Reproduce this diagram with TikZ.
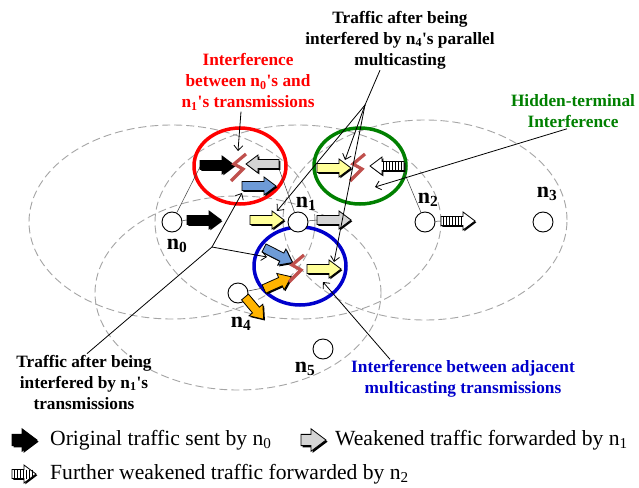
\documentclass[tikz,border=0pt]{standalone}
\usepackage{fontspec}
\setmainfont{Liberation Serif}
\usetikzlibrary{arrows.meta}
\definecolor{yel}{RGB}{255,255,153}
\definecolor{lgray}{RGB}{212,212,212}
\definecolor{bluearr}{RGB}{110,155,215}
\definecolor{orng}{RGB}{255,180,0}
\definecolor{boltc}{RGB}{192,80,77}
\definecolor{rangec}{RGB}{165,165,165}
\definecolor{grn}{RGB}{0,128,0}
\definecolor{blu}{RGB}{0,0,204}
\definecolor{redc}{RGB}{255,0,0}
\newcommand\sq{\textquotesingle}

% block arrow: fill, tail point, angle, length
\newcommand\barrow[4]{%
  \fill[black,shift={(#2)},shift={(1.3,1.3)},rotate=#3] (0,-4.5) -- ({#4-12},-4.5) -- ({#4-12},-9) -- (#4,0) -- ({#4-12},9) -- ({#4-12},4.5) -- (0,4.5) -- cycle;
  \filldraw[fill=#1,draw=black,line width=0.8pt,shift={(#2)},rotate=#3] (0,-4.5) -- ({#4-12},-4.5) -- ({#4-12},-9) -- (#4,0) -- ({#4-12},9) -- ({#4-12},4.5) -- (0,4.5) -- cycle;}
% hatched arrow: tail point, angle, length
\newcommand\harrow[3]{%
  \fill[black,shift={(#1)},shift={(1.3,1.3)},rotate=#2] (0,-4.5) -- ({#3-12},-4.5) -- ({#3-12},-9) -- (#3,0) -- ({#3-12},9) -- ({#3-12},4.5) -- (0,4.5) -- cycle;
  \filldraw[fill=white,draw=black,line width=0.8pt,shift={(#1)},rotate=#2] (0,-4.5) -- ({#3-12},-4.5) -- ({#3-12},-9) -- (#3,0) -- ({#3-12},9) -- ({#3-12},4.5) -- (0,4.5) -- cycle;
  \foreach \k in {1,...,7}{\draw[line width=1.4pt,shift={(#1)},rotate=#2] ({\k*3-0.5},-4.5) -- ({\k*3-0.5},4.5);}}
\newcommand\zbolt[1]{%
  \draw[boltc,line width=3.2pt,line join=miter,shift={(#1)}] (7,-13) -- (-5,-3) -- (4,2) -- (-8,14);}

\tikzset{
  rangestyle/.style={draw=rangec,line width=0.9pt,dash pattern=on 8pt off 4pt},
  nd/.style={circle,draw=black,fill=white,line width=0.9pt,minimum size=20pt,inner sep=0pt},
  nlbl/.style={font=\bfseries\fontsize{22}{24}\selectfont,inner sep=0pt},
  annot/.style={font=\bfseries\fontsize{17.3}{21}\selectfont,align=center,inner sep=1pt},
  legtext/.style={font=\fontsize{21.6}{24}\selectfont,anchor=west,inner sep=0pt},
  callout/.style={draw=black,line width=0.8pt,-{Straight Barb[length=5pt,width=9pt]}},
  plainline/.style={draw=black,line width=0.8pt},
  thinline/.style={draw=black!75,line width=0.5pt}
}

\begin{document}
\begin{tikzpicture}[x=1pt,y=-1pt]
\useasboundingbox (0,0) rectangle (639,487);
\fill[white] (0,0) rectangle (639,487);

% range ellipses
\draw[rangestyle] (172,222) ellipse [x radius=143pt, y radius=97pt];
\draw[rangestyle] (298,222) ellipse [x radius=143pt, y radius=97pt];
\draw[rangestyle] (425,220) ellipse [x radius=142pt, y radius=100pt];
\draw[rangestyle] (238,293) ellipse [x radius=143pt, y radius=97pt];

% interference ellipses
\draw[redc,line width=3.5pt] (240,166) ellipse [x radius=46pt, y radius=38pt];
\draw[grn,line width=3.5pt] (360,166) ellipse [x radius=46pt, y radius=38pt];
\draw[blu,line width=3.5pt] (300,266) ellipse [x radius=46pt, y radius=39pt];

% nodes
\node[nd] (n0) at (172,222) {};
\node[nd] (n1) at (298,222) {};
\node[nd] (n2) at (425,222) {};
\node[nd] (n3) at (543,222) {};
\node[nd] (n4) at (238,293) {};
\node[nd] (n5) at (323,349) {};
\node[nlbl] (l0) at (177,246) {n\textsubscript{0}};
\node[nlbl] (l1) at (306,204) {n\textsubscript{1}};
\node[nlbl] (l2) at (428,200) {n\textsubscript{2}};
\node[nlbl] (l3) at (547,194) {n\textsubscript{3}};
\node[nlbl] (l4) at (241,324) {n\textsubscript{4}};
\node[nlbl] (l5) at (305,369) {n\textsubscript{5}};

% coordinates
\coordinate (aBR) at (201,165);
\coordinate (aGL) at (278,166);
\coordinate (aHL) at (402,167);
\coordinate (aOr) at (263,288);
\coordinate (aG1) at (317,220);
\coordinate (aH2) at (441,221);
\coordinate (aB0) at (187,220);
\coordinate (tRed) at (238,151);
\coordinate (J) at (365,105);
\coordinate (tG1) at (345,160);
\coordinate (tN1) at (277,211);
\coordinate (tB1) at (334,262);
\coordinate (K) at (212,247);
\coordinate (tK1) at (242,193);
\coordinate (tK2) at (267,257);
\coordinate (tGr) at (375,187);
\coordinate (tBl) at (323,282);

% thin lines from nodes to traffic
\draw[thinline] (n0) -- (aBR);
\draw[thinline] (n1) -- (aGL);
\draw[thinline] (n2) -- (aHL);
\draw[thinline] (n4) -- (aOr);
\draw[thinline] (n1) -- (aG1);
\draw[thinline] (n2) -- (aH2);
\draw[thinline] (n0) -- (aB0);

% traffic arrows
\barrow{black}{200,165}{0}{34}
\barrow{lgray}{279,164}{180}{33}
\barrow{bluearr}{242,186}{0}{34}
\barrow{black}{187,220}{0}{34}
\barrow{yel}{250,220}{0}{34}
\barrow{lgray}{317,220}{0}{34}
\barrow{yel}{317,168}{0}{34}
\harrow{404,166}{180}{34}
\harrow{441,221}{0}{34}
\barrow{bluearr}{264,248}{-27}{32}
\barrow{orng}{264,289}{24}{30}
\barrow{yel}{307,269}{0}{34}
\barrow{orng}{245,297}{-50}{29}

% interference bolts
\zbolt{239,167}
\zbolt{358,167}
\zbolt{297,268}

% labels
\node[annot,text=redc] (redlbl) at (248,82) {Interference\\between n\textsubscript{0}\sq s and\\n\textsubscript{1}\sq s transmissions};
\node[annot] (toplbl) at (400,40) {Traffic after being\\interfered by n\textsubscript{4}\sq s parallel\\multicasting};
\node[annot,text=grn] (grnlbl) at (573,111) {Hidden-terminal\\Interference};
\node[annot,text=blu] (blulbl) at (463,379) {Interference between adjacent\\multicasting transmissions};
\node[annot] (bllbl) at (84,382) {Traffic after being\\interfered by n\textsubscript{1}\sq s\\transmissions};

% callouts
\draw[callout] ([xshift=-7pt]redlbl.south) -- (tRed);
\draw[plainline] ([xshift=-20pt]toplbl.south) -- (J);
\draw[callout] (J) -- (tG1);
\draw[callout] (J) -- (tN1);
\draw[callout] (J) -- (tB1);
\draw[plainline] ([xshift=3pt]bllbl.north) -- (K);
\draw[callout] (K) -- (tK1);
\draw[callout] (K) -- (tK2);
\draw[callout] ([xshift=-6pt]grnlbl.south) -- (tGr);
\draw[callout] ([xshift=-73pt]blulbl.north) -- (tBl);

% legend
\begin{scope}[shift={(12,440)},scale=1.25]
\barrow{black}{0,0}{0}{20}
\end{scope}
\node[legtext] (lg1) at (50,440) {Original traffic sent by n\textsubscript{0}};
\begin{scope}[shift={(301,440)},scale=1.25]
\barrow{lgray}{0,0}{0}{20}
\end{scope}
\node[legtext] (lg2) at (335,440) {Weakened traffic forwarded by n\textsubscript{1}};
\begin{scope}[shift={(12,474)},scale=1.0]
\harrow{0,0}{0}{24}
\end{scope}
\node[legtext] (lg3) at (50,474) {Further weakened traffic forwarded by n\textsubscript{2}};
\end{tikzpicture}
\end{document}
